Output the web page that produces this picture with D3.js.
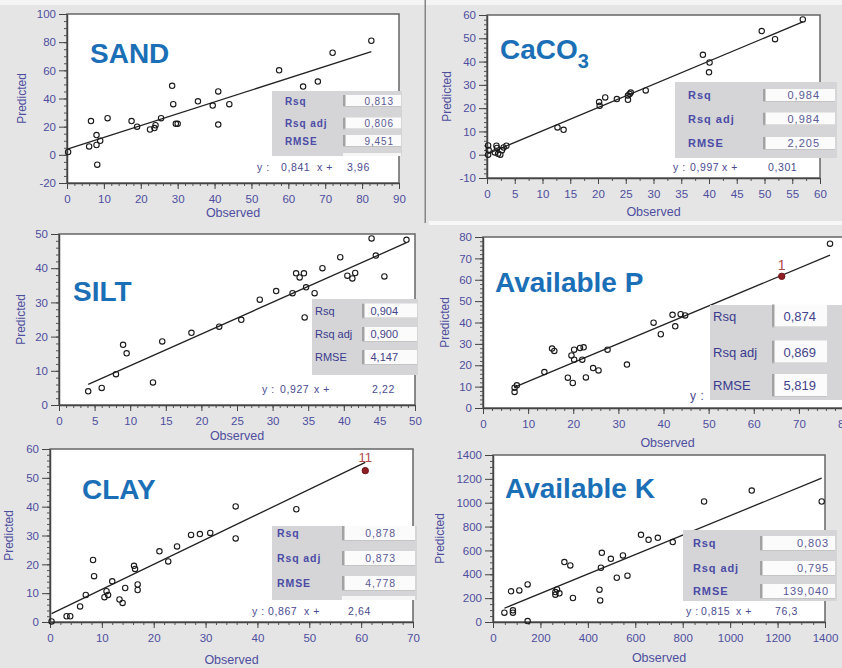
<!DOCTYPE html>
<html>
<head>
<meta charset="utf-8">
<script src="https://cdn.jsdelivr.net/npm/d3@7"></script>
<style>
  body { margin: 0; background: #e5e5e5; }
  svg { display: block; }
  text { font-family: Arial, "Liberation Sans", sans-serif; }
</style>
</head>
<body>
<svg id="chart" width="842" height="668"></svg>
<script>
// observed / predicted pairs
var sandPoints = [[0.3,2],[6,6],[6.5,24],[8,14],[8,7],[8.2,-7],[9,10],[11,26],[17.5,24],[19,20],[22.5,18],[23.7,19],[24,21],[25.5,26],[28.5,49],[28.8,36],[29.5,22],[30,22],[35.5,38],[39.5,35],[41,45],[41,21.5],[44,36],[57.5,60],[64,48.5],[68,52],[72,72.5],[82.5,81]];
var caco3Points = [[0.2,4],[0.2,0],[0.3,2],[1.4,1],[1.7,3.9],[1.8,2.9],[2,0.4],[2.4,0],[2.7,1.9],[3,3.1],[3.5,3.9],[12.7,11.7],[13.8,10.7],[20.2,22.6],[20.3,21],[21.3,24.6],[23.4,23.9],[25.4,23.6],[25.4,25.4],[25.7,26.1],[25.9,26.7],[28.6,27.6],[38.9,42.9],[40.1,39.6],[40,35.4],[49.5,53.1],[51.9,49.6],[56.9,58.1]];
var siltPoints = [[4.1,4],[6,5],[8,9],[9,17.6],[9.5,15.1],[13.2,6.6],[14.5,18.6],[18.6,21.1],[22.5,22.9],[25.6,24.9],[28.2,30.8],[30.5,33.3],[32.8,32.7],[33.3,38.5],[33.8,37.3],[34.4,38.5],[34.5,25.6],[34.7,34.4],[35.9,32.7],[37,40],[39.5,43.2],[40.5,37.8],[41.2,37],[41.6,38.6],[43.9,48.7],[44.5,43.7],[45.7,37.6],[48.8,48.3]];
var availPPoints = [[7,7.5],[7,9.5],[7.5,10.6],[13.6,16.8],[15.3,27.8],[15.8,26.7],[18.8,14.2],[19.6,24.6],[19.9,11.7],[20.2,22.6],[20.2,27.3],[21.5,28.1],[22,22.6],[22.3,28.4],[22.8,14.3],[24.4,18.7],[25.6,17.6],[27.6,27.3],[31.9,20.3],[37.8,39.9],[39.4,34.5],[42,43.6],[42.6,38.2],[43.8,43.9],[44.8,43.3],[76.9,76.9]];
var clayPoints = [[0.3,0.2],[3.2,2],[3.9,2],[5.8,5.4],[6.9,9.4],[8.3,21.5],[8.5,15.9],[10.5,8.6],[10.9,10.7],[11.2,9.4],[12,14.1],[13.4,7.8],[14,6.6],[14.5,11.8],[16.2,19.5],[16.4,18.4],[16.9,13],[16.9,11.1],[21.1,24.5],[22.8,21],[24.5,26.2],[27.2,30.2],[28.9,30.5],[30.9,30.9],[35.8,40.1],[35.8,29],[47.5,39.1]];
var availKPoints = [[48,78],[76,257],[84,78],[84,98],[111,265],[146,315],[146,8],[263,251],[270,273],[280,240],[263,229],[301,502],[326,474],[337,201],[449,271],[452,181],[455,455],[459,580],[497,530],[522,371],[548,558],[567,388],[624,731],[656,689],[695,706],[758,670],[890,1010],[1091,1102],[1386,1010]];

// highlighted (labelled) sample per panel
var highlightPoints = [null, null, null, [66.2,61.6,"1"], [60.8,52.5,"11"], null];

var titleMain = ["SAND", "CaCO", "SILT", "Available P", "CLAY", "Available K"];
var titleSub = ["", "3", "", "", "", ""];
var rsqValues = ["0,813", "0,984", "0,904", "0,874", "0,878", "0,803"];
var rsqAdjValues = ["0,806", "0,984", "0,900", "0,869", "0,873", "0,795"];
var rmseValues = ["9,451", "2,205", "4,147", "5,819", "4,778", "139,040"];
var statNames = ["Rsq", "Rsq adj", "RMSE"];
var slopes = [0.841, 0.997, 0.927, 0.883, 0.867, 0.815];
var intercepts = [3.96, 0.301, 2.22, 3.6, 2.64, 76.3];
var xDomains = [[0,90],[0,60],[0,50],[0,80],[0,70],[0,1400]];
var yDomains = [[-20,100],[-10,60],[0,50],[0,80],[0,60],[0,1400]];
var xSteps = [[10,2],[5,2.5],[5,1],[10,2],[10,2],[200,50]];
var ySteps = [[20,5],[10,2],[10,2],[10,2],[10,2],[200,50]];

var allPoints = [sandPoints, caco3Points, siltPoints, availPPoints, clayPoints, availKPoints];

// layout of each screenshot panel
var panels = [
  {l:67, r:399, t:14, b:183, title:[90,63], predX:22, obsY:217,
   box:{x:272, y:91, w:130, h:65, labelX:285, fieldX:343, fieldW:58, fieldH:12, rows:[101,123.5,141], extra:155, valueX:394},
   stat:{size:10, bold:true, ls:0.9, label:"#4b4ba6", value:"#5a5a96"}, eq:{y:167, xs:[257,281,317,347]}},
  {l:487, r:820, t:15, b:178, title:[500,59], predX:447, obsY:216,
   box:{x:675, y:82, w:162, h:76, labelX:688, fieldX:763, fieldW:72, fieldH:13, rows:[95.5,119,143.5], extra:null, valueX:820},
   stat:{size:11, bold:true, ls:1, label:"#4b4ba6", value:"#5a5a96"}, eq:{y:167, xs:[673,690,722,768]}},
  {l:59, r:415, t:234, b:405, title:[73,301], predX:21, obsY:440,
   box:{x:312, y:299, w:106, h:76, labelX:315, fieldX:362, fieldW:55, fieldH:15, rows:[311,334.5,357.5], extra:null, valueX:398},
   stat:{size:11, bold:false, ls:0, label:"#3a3a8e", value:"#44448a"}, eq:{y:389, xs:[262,280,314,372]}},
  {l:483, r:844, t:237, b:408, title:[495,292], predX:445, obsY:447,
   box:{x:710, y:305, w:132, h:95, labelX:713, fieldX:772, fieldW:55, fieldH:23, rows:[316,352,385.5], extra:null, valueX:816},
   stat:{size:13, bold:false, ls:0, label:"#3a3a8e", value:"#44448a"}, eq:{y:396, xs:[690]}},
  {l:50, r:413, t:449, b:622, title:[82,499], predX:9, obsY:664,
   box:{x:272, y:526, w:145, h:74, labelX:277, fieldX:342, fieldW:73, fieldH:15, rows:[533.5,558.5,583.5], extra:598, valueX:396},
   stat:{size:10.5, bold:true, ls:0.9, label:"#4b4ba6", value:"#5a5a96"}, eq:{y:611, xs:[252,268,304,348]}},
  {l:493, r:825, t:455, b:622, title:[505,498], predX:440, obsY:662,
   box:{x:683, y:530, w:154, h:71, labelX:693, fieldX:760, fieldW:75, fieldH:15, rows:[543.5,568.5,591.5], extra:null, valueX:829},
   stat:{size:11, bold:true, ls:0.9, label:"#4b4ba6", value:"#5a5a96"}, eq:{y:611, xs:[686,701,736,775]}}
];

var svg = d3.select("#chart");
var tickColor = "#4e4e9e";
var comma = function(v) { return String(v).replace(".", ","); };

// screenshot seams
svg.append("rect").attr("x", 0).attr("y", 0).attr("width", 842).attr("height", 5).attr("fill", "#f4f4f4");
svg.append("rect").attr("x", 424.5).attr("y", 0).attr("width", 1.5).attr("height", 223).attr("fill", "#858585");
svg.append("rect").attr("x", 429).attr("y", 221).attr("width", 413).attr("height", 4).attr("fill", "#f7f7f7");

panels.forEach(function(p, i) {
  var g = svg.append("g");
  var x = d3.scaleLinear().domain(xDomains[i]).range([p.l, p.r]);
  var y = d3.scaleLinear().domain(yDomains[i]).range([p.b, p.t]);

  // plot frame
  g.append("rect")
    .attr("x", p.l).attr("y", p.t)
    .attr("width", p.r - p.l).attr("height", p.b - p.t)
    .attr("fill", "#fff")
    .attr("stroke", "#666")
    .attr("stroke-width", 1.5);

  var xd = xDomains[i], yd = yDomains[i];
  var xMajor = d3.range(xd[0], xd[1] + 1e-9, xSteps[i][0]);
  var xMinor = d3.range(xd[0], xd[1] + 1e-9, xSteps[i][1]);
  var yMajor = d3.range(yd[0], yd[1] + 1e-9, ySteps[i][0]);
  var yMinor = d3.range(yd[0], yd[1] + 1e-9, ySteps[i][1]);

  // minor ticks
  g.append("g").attr("transform", "translate(0," + p.b + ")")
    .call(d3.axisBottom(x).tickValues(xMinor).tickSize(3).tickSizeOuter(0).tickFormat(""))
    .call(function(a) { a.select(".domain").remove(); a.selectAll("line").attr("stroke", "#555"); });
  g.append("g").attr("transform", "translate(" + p.l + ",0)")
    .call(d3.axisLeft(y).tickValues(yMinor).tickSize(3).tickSizeOuter(0).tickFormat(""))
    .call(function(a) { a.select(".domain").remove(); a.selectAll("line").attr("stroke", "#555"); });

  // major ticks + labels
  var xa = g.append("g").attr("transform", "translate(0," + p.b + ")")
    .call(d3.axisBottom(x).tickValues(xMajor).tickSize(6).tickSizeOuter(0).tickPadding(6)
      .tickFormat(function(d) { return String(d); }));
  var ya = g.append("g").attr("transform", "translate(" + p.l + ",0)")
    .call(d3.axisLeft(y).tickValues(yMajor).tickSize(8).tickSizeOuter(0).tickPadding(3)
      .tickFormat(function(d) { return String(d); }));
  [xa, ya].forEach(function(a) {
    a.select(".domain").attr("stroke", "#444").attr("stroke-width", 1.5);
    a.selectAll("line").attr("stroke", "#444");
    a.selectAll("text").attr("fill", tickColor).attr("font-size", 11.5)
      .attr("font-family", "Arial, 'Liberation Sans', sans-serif");
  });

  // axis titles
  g.append("text")
    .attr("transform", "translate(" + p.predX + "," + ((p.t + p.b) / 2) + ") rotate(-90)")
    .attr("text-anchor", "middle").attr("dy", "0.35em")
    .attr("font-size", 12).attr("fill", tickColor)
    .text("Predicted");
  g.append("text")
    .attr("x", (p.l + Math.min(p.r, 842)) / 2 + (i == 3 ? 5 : 0)).attr("y", p.obsY)
    .attr("text-anchor", "middle")
    .attr("font-size", 12.5).attr("fill", tickColor)
    .text("Observed");

  // fitted line over the observed range
  var pts = allPoints[i].slice();
  if (highlightPoints[i]) pts.push(highlightPoints[i]);
  var ext = d3.extent(pts, function(d) { return d[0]; });
  var line = d3.line().x(function(d) { return x(d); }).y(function(d) { return y(slopes[i] * d + intercepts[i]); });
  g.append("path").datum(ext)
    .attr("d", line)
    .attr("fill", "none")
    .attr("stroke", "#222")
    .attr("stroke-width", 1.3);

  // samples
  g.selectAll("circle.pt").data(allPoints[i]).enter().append("circle")
    .attr("class", "pt")
    .attr("cx", function(d) { return x(d[0]); })
    .attr("cy", function(d) { return y(d[1]); })
    .attr("r", 2.7)
    .attr("fill", "none")
    .attr("stroke", "#1a1a1a")
    .attr("stroke-width", 1.1);

  var hp = highlightPoints[i];
  if (hp) {
    g.append("circle").attr("cx", x(hp[0])).attr("cy", y(hp[1])).attr("r", 3.2)
      .attr("fill", "#8e1f24").attr("stroke", "#6e1518");
    g.append("text").attr("x", x(hp[0])).attr("y", y(hp[1]) - (i == 3 ? 6 : 9))
      .attr("text-anchor", "middle").attr("font-size", i == 3 ? 14 : 13)
      .attr("fill", "#b04a4a").text(hp[2]);
  }

  // panel title
  var tt = g.append("text")
    .attr("x", p.title[0]).attr("y", p.title[1])
    .attr("font-size", 28).attr("font-weight", "bold")
    .attr("fill", "#1b6fb6")
    .text(titleMain[i]);
  if (titleSub[i]) {
    tt.append("tspan").attr("dy", 9).attr("font-size", 20).text(titleSub[i]);
  }

  // statistics box
  var bx = p.box, st = p.stat;
  var sb = g.append("g");
  sb.append("rect").attr("x", bx.x).attr("y", bx.y).attr("width", bx.w).attr("height", bx.h).attr("fill", "#d5d5d7");
  var vals = [rsqValues[i], rsqAdjValues[i], rmseValues[i]];
  bx.rows.forEach(function(cy, k) {
    sb.append("rect").attr("x", bx.fieldX).attr("y", cy - bx.fieldH / 2)
      .attr("width", bx.fieldW).attr("height", bx.fieldH).attr("fill", "#fbfbfb");
    sb.append("rect").attr("x", bx.fieldX).attr("y", cy - bx.fieldH / 2)
      .attr("width", 2.5).attr("height", bx.fieldH).attr("fill", "#a2a2a2");
    sb.append("rect").attr("x", bx.fieldX).attr("y", cy + bx.fieldH / 2 - 1)
      .attr("width", bx.fieldW).attr("height", 1).attr("fill", "#c4c4c4");
    sb.append("text").attr("x", bx.labelX).attr("y", cy).attr("dy", "0.35em")
      .attr("font-size", st.size).attr("font-weight", st.bold ? "bold" : "normal")
      .attr("letter-spacing", st.ls).attr("fill", st.label)
      .text(statNames[k]);
    sb.append("text").attr("x", bx.valueX).attr("y", cy).attr("dy", "0.35em")
      .attr("text-anchor", "end")
      .attr("font-size", st.size).attr("letter-spacing", st.ls).attr("fill", st.value)
      .text(vals[k]);
  });
  if (bx.extra) {
    sb.append("rect").attr("x", bx.fieldX).attr("y", bx.extra - 2)
      .attr("width", bx.fieldW).attr("height", bx.y + bx.h - bx.extra + 2).attr("fill", "#f6f6f6");
  }

  // regression equation
  var eqParts = ["y :", comma(slopes[i].toFixed(3)), "x +", comma(intercepts[i])];
  p.eq.xs.forEach(function(ex, k) {
    g.append("text").attr("x", ex).attr("y", p.eq.y).attr("dy", "0.35em")
      .attr("font-size", i == 3 ? 12 : 10.5).attr("letter-spacing", 0.6)
      .attr("fill", "#4a4a90")
      .text(eqParts[k]);
  });
});
</script>
</body>
</html>
